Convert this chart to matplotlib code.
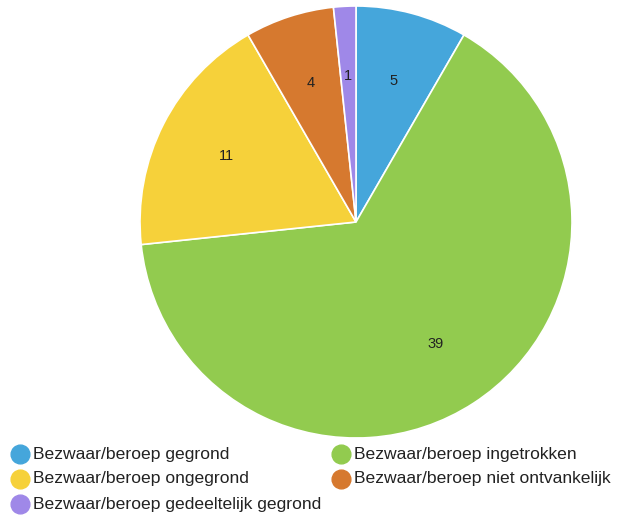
import matplotlib
matplotlib.use("Agg")
import matplotlib.pyplot as plt
from matplotlib.lines import Line2D

plt.rcParams['font.family'] = ['Liberation Sans', 'DejaVu Sans']

labels = ["Bezwaar/beroep gegrond", "Bezwaar/beroep ingetrokken",
          "Bezwaar/beroep ongegrond", "Bezwaar/beroep niet ontvankelijk",
          "Bezwaar/beroep gedeeltelijk gegrond"]
values = [5, 39, 11, 4, 1]
colors = ["#45a6db", "#92cb4f", "#f6d13a", "#d6792f", "#9f88e8"]

W, H = 621, 521
fig = plt.figure(figsize=(W / 100, H / 100), dpi=100)
cx, cy, r = 356, 222, 216
ax = fig.add_axes([(cx - r) / W, (H - cy - r) / H, 2 * r / W, 2 * r / H])
wedges, texts = ax.pie(values, colors=colors, startangle=90, counterclock=False,
                       labels=[str(v) for v in values], labeldistance=0.675,
                       wedgeprops=dict(edgecolor="white", linewidth=1.2),
                       textprops=dict(fontsize=10.5, color="#222222"))
for t in texts:
    t.set_ha("center")
    t.set_va("center")
ax.set_xlim(-1, 1)
ax.set_ylim(-1, 1)
ax.set_aspect("equal")

# legend, two columns
rows_y = [454, 479, 504]
col_x = [20, 341]
for i, (lab, col) in enumerate(zip(labels, colors)):
    x = col_x[i % 2]
    y = rows_y[i // 2]
    fig.add_artist(Line2D([x / W], [1 - y / H], marker="o", markersize=13.5,
                          color=col, linestyle="none", transform=fig.transFigure))
    fig.text((x + 13) / W, 1 - y / H, lab, fontsize=12.6, color="#222222",
             va="center", ha="left")

fig.savefig("out.png", dpi=100)
